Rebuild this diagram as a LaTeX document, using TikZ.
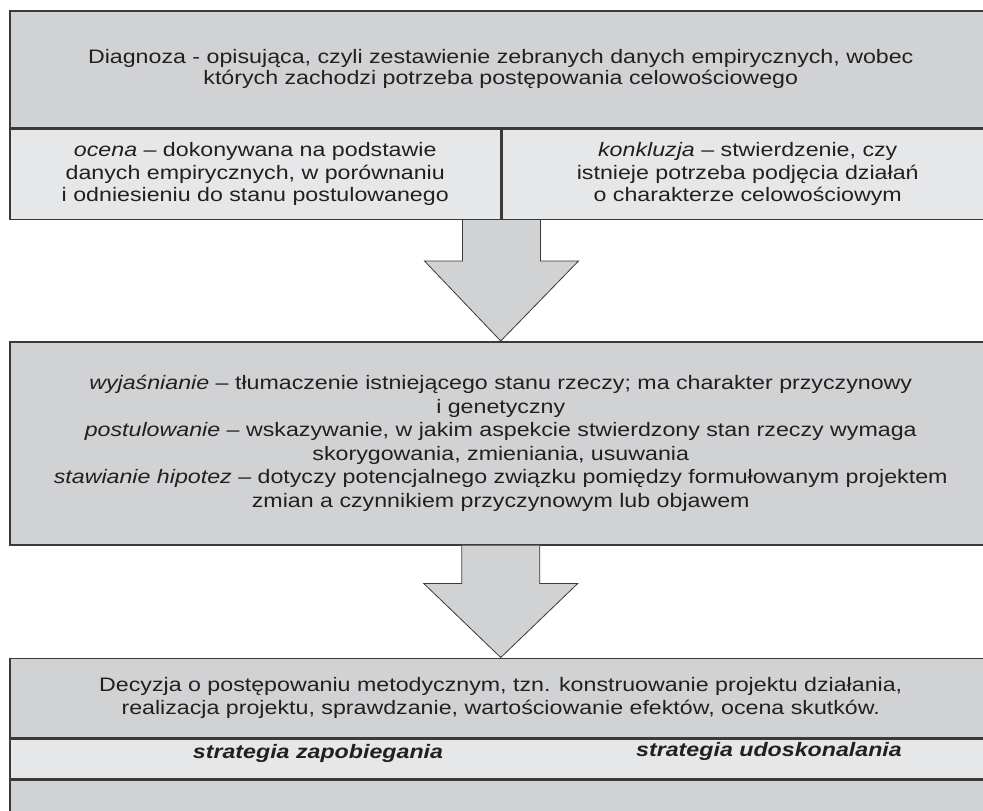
\documentclass[tikz,border=0pt]{standalone}
\usepackage{fontspec}
\setmainfont{Liberation Sans}[FakeStretch=1.19]
\usetikzlibrary{positioning, calc}
\definecolor{CBoxDark}{HTML}{D1D2D4}
\definecolor{CBoxLight}{HTML}{E6E7E8}
\definecolor{CLine}{HTML}{3A3A3A}
\definecolor{CText}{HTML}{231F20}

\begin{document}
\begin{tikzpicture}[
    x=1pt, y=-1pt,
    % Reusable styles for the boxes and the block arrows
    box dark/.style={draw=CLine, fill=CBoxDark, line width=1.5pt, inner sep=0pt, align=center, text=CText},
    box light/.style={draw=CLine, fill=CBoxLight, line width=1.5pt, inner sep=0pt, align=center, text=CText},
    block arrow/.style={draw=CLine, fill=CBoxDark, line width=0.8pt, line join=miter},
    strat text/.style={font=\fontsize{19.5}{21}\selectfont\bfseries\itshape, text=CText}
]

    % Page frame (boxes run out over the right and bottom edges)
    \useasboundingbox (0,0) rectangle (983,811);
    \clip (0,0) rectangle (983,811);

    % -------------------------
    % Top: diagnosis + two cells
    % -------------------------
    \node[box dark, minimum width=982pt, minimum height=117pt, anchor=north west,
          font=\fontsize{19.5}{21}\selectfont] (diag) at (9,10)
        {Diagnoza - opisująca, czyli zestawienie zebranych danych empirycznych, wobec\\
         których zachodzi potrzeba postępowania celowościowego};

    \node[box light, minimum width=491pt, minimum height=90pt, below right=0pt and 0pt of diag.south west,
          font=\fontsize{19.5}{22.5}\selectfont] (ocena)
        {\textit{ocena} – dokonywana na podstawie\\
         danych empirycznych, w porównaniu\\
         i odniesieniu do stanu postulowanego};
    \node[box light, minimum width=491pt, minimum height=90pt, right=0pt of ocena,
          font=\fontsize{19.5}{22.5}\selectfont] (konkl)
        {\textit{konkluzja} – stwierdzenie, czy\\
         istnieje potrzeba podjęcia działań\\
         o charakterze celowościowym};

    % -------------------------
    % Middle: explanation box
    % -------------------------
    \node[box dark, minimum width=982pt, minimum height=203pt, below right=121pt and 0pt of ocena.south west,
          font=\fontsize{19.5}{23.5}\selectfont] (mid)
        {\textit{wyjaśnianie} – tłumaczenie istniejącego stanu rzeczy; ma charakter przyczynowy\\
         i genetyczny\\
         \textit{postulowanie} – wskazywanie, w jakim aspekcie stwierdzony stan rzeczy wymaga\\
         skorygowania, zmieniania, usuwania\\
         \textit{stawianie hipotez} – dotyczy potencjalnego związku pomiędzy formułowanym projektem\\
         zmian a czynnikiem przyczynowym lub objawem};

    % -------------------------
    % Bottom: decision + strategies
    % -------------------------
    \node[box dark, minimum width=982pt, minimum height=79pt, below right=112pt and 0pt of mid.south west,
          font=\fontsize{19.5}{23}\selectfont] (dec)
        {Decyzja o postępowaniu metodycznym, tzn. konstruowanie projektu działania,\\
         realizacja projektu, sprawdzanie, wartościowanie efektów, ocena skutków.};
    \node[box light, minimum width=982pt, minimum height=40pt, below right=0pt and 0pt of dec.south west] (strat) {};
    \node[box dark, minimum width=982pt, minimum height=48pt, below right=0pt and 0pt of strat.south west] (rest) {};

    \node[strat text] (zapob) at (318,753) {strategia zapobiegania};
    \node[strat text] (udosk) at (769,751) {strategia udoskonalania};

    % Block arrows between the stages (shaft half width 39, head half width 77)
    \coordinate (a1) at (ocena.south east);
    \draw[block arrow] ($(a1)+(-39,0)$) -- ($(a1)+(-39,41)$) -- ($(a1)+(-77,41)$) -- (mid.north)
        -- ($(a1)+(77,41)$) -- ($(a1)+(39,41)$) -- ($(a1)+(39,0)$);

    \coordinate (a2) at (mid.south);
    \draw[block arrow] ($(a2)+(-39,0)$) -- ($(a2)+(-39,38)$) -- ($(a2)+(-77,38)$) -- (dec.north)
        -- ($(a2)+(77,38)$) -- ($(a2)+(39,38)$) -- ($(a2)+(39,0)$);

\end{tikzpicture}
\end{document}
